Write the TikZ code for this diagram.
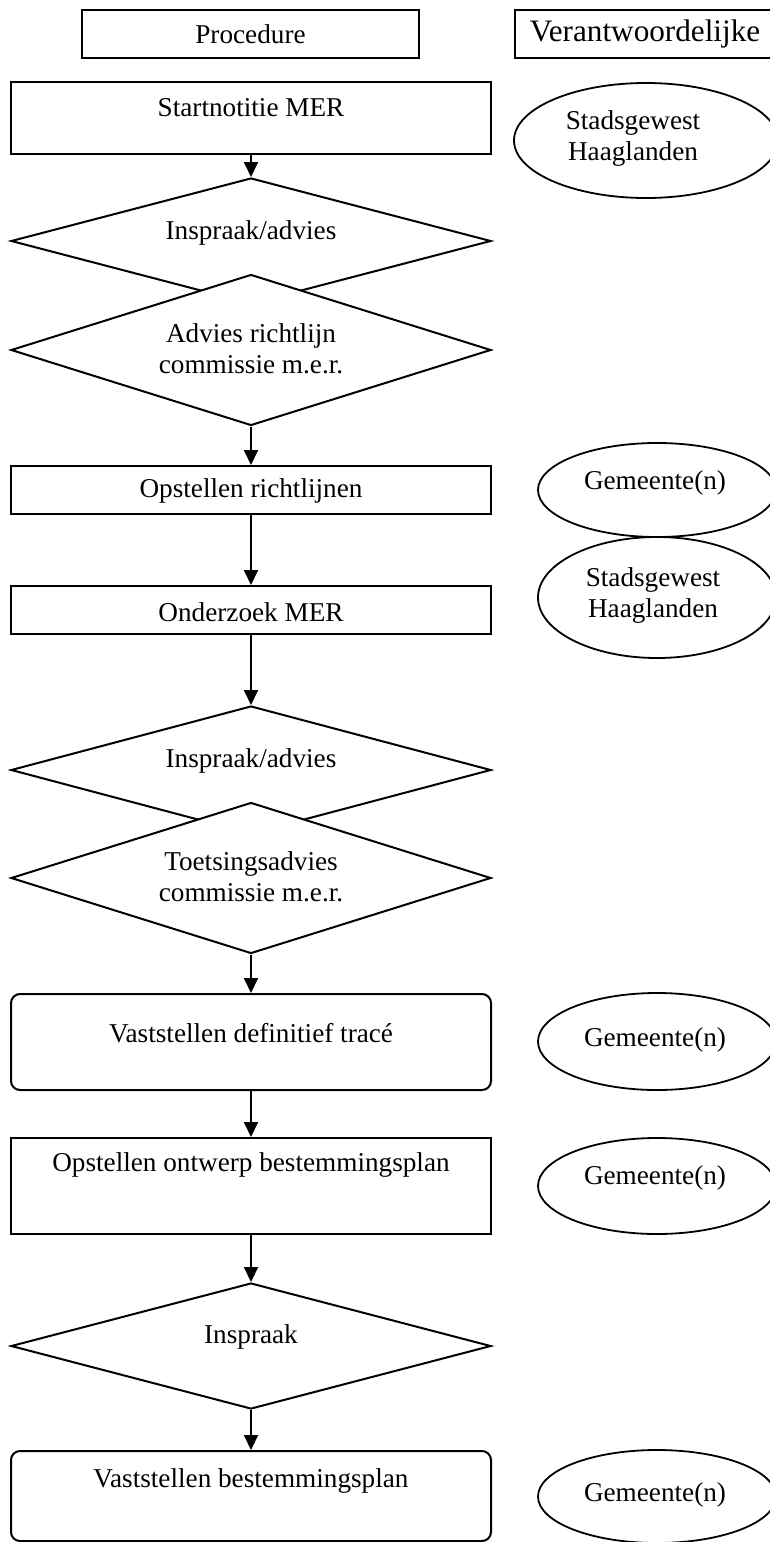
\documentclass[tikz,border=0pt]{standalone}
\usepackage{fontspec}
\setmainfont{Liberation Serif}
\usetikzlibrary{shapes.geometric,arrows.meta}
\begin{document}
\begin{tikzpicture}[x=0.5pt,y=-0.5pt,
  every node/.style={font=\fontsize{13.6}{15.5}\selectfont},
  box/.style={draw,line width=1pt,rectangle,minimum width=240pt,inner sep=0pt,fill=white},
  rbox/.style={box,rounded corners=4.5pt},
  hdr/.style={draw,line width=1pt,rectangle,minimum height=24pt,inner sep=0pt},
  dia/.style={draw,line width=1pt,diamond,minimum width=240pt,inner sep=0pt,fill=white},
  ell/.style={draw,line width=0.9pt,ellipse,inner sep=0pt,fill=white},
  txt/.style={align=center,inner sep=0pt},
  arr/.style={line width=1pt,-{Triangle[length=7.5pt,width=7pt]}}]
\useasboundingbox (0,0) rectangle (770,1542);
\clip (0,0) rectangle (770,1542);
\fill[white] (0,0) rectangle (770,1542);
% headers
\node[hdr,minimum width=168.5pt] (hproc) at (250.5,34) {Procedure};
\node[hdr,minimum width=130pt,font=\fontsize{15.6}{17}\selectfont] (hver) at (645,34) {Verantwoordelijke};
% boxes
\node[box,minimum height=36pt] (start) at (251,118) {};
\node[txt] (tstart) at (251,108) {Startnotitie MER};
\node[dia,minimum height=63pt] (d1) at (251,241) {};
\node[txt] (td1) at (251,233) {Inspraak/advies};
\node[dia,minimum height=75.5pt] (d2) at (251,350) {};
\node[txt] (td2) at (251,349) {Advies richtlijn\\commissie m.e.r.};
\node[box,minimum height=24pt] (richt) at (251,490) {};
\node[txt] (trich) at (251,491) {Opstellen richtlijnen};
\node[box,minimum height=24pt] (onderz) at (251,610) {};
\node[txt] (tonder) at (251,612) {Onderzoek MER};
\node[dia,minimum height=64pt] (d3) at (251,770) {};
\node[txt] (td3) at (251,761) {Inspraak/advies};
\node[dia,minimum height=75.5pt] (d4) at (251,878) {};
\node[txt] (td4) at (251,877) {Toetsingsadvies\\commissie m.e.r.};
\node[rbox,minimum height=48pt] (vdef) at (251,1042) {};
\node[txt] (tvdef) at (251,1033) {Vaststellen definitief tracé};
\node[box,minimum height=48pt] (ontw) at (251,1186) {};
\node[txt] (tontw) at (251,1165) {Opstellen ontwerp bestemmingsplan};
\node[dia,minimum height=63pt] (d5) at (251,1346) {};
\node[txt] (td5) at (251,1337) {Inspraak};
\node[rbox,minimum height=45pt] (vbest) at (251,1496) {};
\node[txt] (tvbest) at (251,1481) {Vaststellen bestemmingsplan};
% responsible ellipses
\node[ell,minimum width=132pt,minimum height=57.5pt] (e1) at (646,140.5) {};
\node[txt] (te1) at (633,138) {Stadsgewest\\Haaglanden};
\node[ell,minimum width=119pt,minimum height=47pt] (e2) at (657,490) {};
\node[txt] (te2) at (655,483) {Gemeente(n)};
\node[ell,minimum width=119pt,minimum height=60.5pt] (e3) at (657,597.5) {};
\node[txt] (te3) at (653,595) {Stadsgewest\\Haaglanden};
\node[ell,minimum width=119pt,minimum height=48.5pt] (e4) at (657,1041.5) {};
\node[txt] (te4) at (655,1040) {Gemeente(n)};
\node[ell,minimum width=119pt,minimum height=48pt] (e5) at (657,1186) {};
\node[txt] (te5) at (655,1178) {Gemeente(n)};
\node[ell,minimum width=119pt,minimum height=46.5pt] (e6) at (657,1496.5) {};
\node[txt] (te6) at (655,1495) {Gemeente(n)};
% connectors
\draw[arr] (start.south) -- (d1.north);
\draw[arr] (d2.south) -- (richt.north);
\draw[arr] (richt.south) -- (onderz.north);
\draw[arr] (onderz.south) -- (d3.north);
\draw[arr] (d4.south) -- (vdef.north);
\draw[arr] (vdef.south) -- (ontw.north);
\draw[arr] (ontw.south) -- (d5.north);
\draw[arr] (d5.south) -- (vbest.north);
\end{tikzpicture}
\end{document}
